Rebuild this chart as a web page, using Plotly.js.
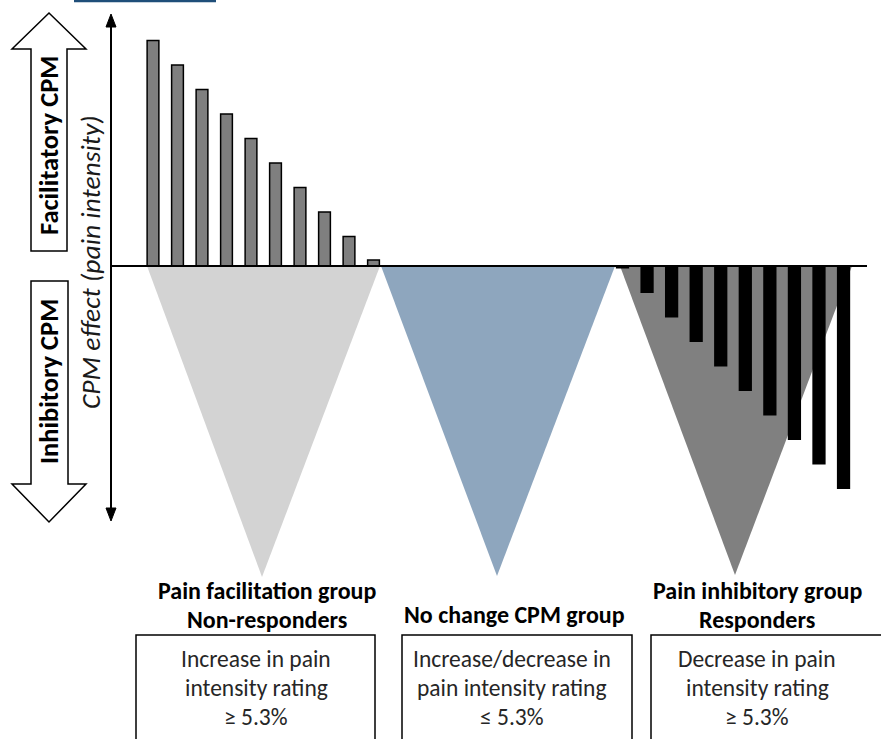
<!DOCTYPE html>
<html>
<head>
<meta charset="utf-8">
<script src="https://cdn.plot.ly/plotly-3.0.1.min.js"></script>
<style>html,body{margin:0;padding:0;background:#fff;}#chart{width:881px;height:739px;}</style>
</head>
<body>
<div id="chart"></div>
<script>
// ---- Data (CPM effect, arbitrary units; + = facilitation, - = inhibition) ----
const nonResponders = ['NR1','NR2','NR3','NR4','NR5','NR6','NR7','NR8','NR9','NR10'];
const nonResponderEffect = [9.2, 8.2, 7.2, 6.2, 5.2, 4.2, 3.2, 2.2, 1.2, 0.25];
const responders = ['R1','R2','R3','R4','R5','R6','R7','R8','R9','R10'];
const responderEffect = [-0.1, -1.1, -2.1, -3.1, -4.1, -5.1, -6.1, -7.1, -8.1, -9.1];

const groupTitles = [
  ['Pain facilitation group', 'Non-responders'],
  ['No change CPM group'],
  ['Pain inhibitory group', 'Responders']
];
const groupDescriptions = [
  ['Increase in pain', 'intensity rating', '≥ 5.3%'],
  ['Increase/decrease in', 'pain intensity rating', '≤ 5.3%'],
  ['Decrease in pain', 'intensity rating', '≥ 5.3%']
];
const axisTitle = 'CPM effect (pain intensity)';
const upLabel = 'Facilitatory CPM';
const downLabel = 'Inhibitory CPM';

// ---- Layout helpers (pixel -> paper) ----
const W = 881, H = 739;
const BASE = 266;          // pixel row of zero line
const UNIT = 24.5;         // pixels per effect unit
const px = x => x / W;
const py = y => 1 - y / H;
const FONT = 'Carlito, Lato, "Liberation Sans", sans-serif';

const traces = [
  {
    type: 'bar', x: nonResponders, y: nonResponderEffect, xaxis: 'x', yaxis: 'y',
    width: 0.48,
    marker: {color: '#7f7f7f', line: {color: '#000000', width: 1.5}},
    hoverinfo: 'skip'
  },
  {
    type: 'bar', x: responders, y: responderEffect, xaxis: 'x2', yaxis: 'y',
    width: 0.54,
    marker: {color: '#000000', line: {width: 0}},
    hoverinfo: 'skip'
  }
];

function tri(x1, x2, xa, ya, color) {
  return {type: 'path', xref: 'paper', yref: 'paper', layer: 'below',
    path: `M ${px(x1)},${py(BASE)} L ${px(x2)},${py(BASE)} L ${px(xa)},${py(ya)} Z`,
    fillcolor: color, line: {width: 0}};
}
function poly(pts, opts) {
  const d = pts.map((p, i) => (i ? 'L ' : 'M ') + px(p[0]) + ',' + py(p[1])).join(' ') + ' Z';
  return Object.assign({type: 'path', xref: 'paper', yref: 'paper', path: d}, opts);
}
function hline(x0, x1, y, color, w) {
  return {type: 'line', xref: 'paper', yref: 'paper', x0: px(x0), x1: px(x1), y0: py(y), y1: py(y),
    line: {color: color, width: w}};
}
function rect(x0, y0, x1, y1) {
  return {type: 'rect', xref: 'paper', yref: 'paper', x0: px(x0), x1: px(x1), y0: py(y0), y1: py(y1),
    fillcolor: 'rgba(0,0,0,0)', line: {color: '#000', width: 1.5}, layer: 'above'};
}

const shapes = [
  hline(74, 216, 1, '#1f4e79', 2.5),
  tri(147, 380, 262, 577, '#d3d3d3'),
  tri(381, 615, 497, 576, '#8ea6be'),
  tri(620, 852, 735, 575, '#808080'),
  // vertical axis with arrowheads
  {type: 'line', xref: 'paper', yref: 'paper', x0: px(111), x1: px(111), y0: py(24), y1: py(511),
    line: {color: '#000', width: 2}},
  poly([[111, 14], [116, 27], [106, 27]], {fillcolor: '#000', line: {color: '#000', width: 1}}),
  poly([[111, 521], [116, 508], [106, 508]], {fillcolor: '#000', line: {color: '#000', width: 1}}),
  // baseline
  hline(111, 867, BASE, '#000', 2),
  // hollow arrows
  poly([[49, 13], [86, 49], [67, 49], [67, 251], [31, 251], [31, 49], [12, 49]],
       {fillcolor: '#fff', line: {color: '#000', width: 1.5}, layer: 'below'}),
  poly([[31, 281], [68, 281], [68, 484], [86, 484], [49, 522], [12, 484], [31, 484]],
       {fillcolor: '#fff', line: {color: '#000', width: 1.5}, layer: 'below'}),
  // boxes
  rect(136, 635, 375, 760),
  rect(402, 635, 632, 760),
  rect(651, 635, 900, 760)
];

function ann(text, x, y, size, color, opts) {
  return Object.assign({text: text, xref: 'paper', yref: 'paper', x: px(x), y: py(y),
    xanchor: 'center', yanchor: 'middle', showarrow: false,
    font: {family: FONT, size: size, color: color || '#000'}}, opts || {});
}

const annotations = [
  ann('<b>' + upLabel + '</b>', 49, 146, 26.5, '#000', {textangle: -90}),
  ann('<b>' + downLabel + '</b>', 49, 382, 26.5, '#000', {textangle: -90}),
  ann('<i>' + axisTitle + '</i>', 90, 262, 27.5, '#1a1a1a', {textangle: -90})
];
const titleCenters = [267, 514, 757];
const descCenters = [256, 512, 757];
groupTitles.forEach((lines, g) => {
  const y0 = lines.length === 1 ? 614 : 590;
  lines.forEach((t, i) => annotations.push(ann('<b>' + t + '</b>', titleCenters[g], y0 + 29 * i, 24, '#000')));
});
groupDescriptions.forEach((lines, g) => {
  lines.forEach((t, i) => annotations.push(ann(t, descCenters[g], 659 + 29 * i, 23.5, '#262626')));
});

const layout = {
  width: W, height: H,
  margin: {l: 0, r: 0, t: 0, b: 0, pad: 0},
  paper_bgcolor: '#fff', plot_bgcolor: 'rgba(0,0,0,0)',
  showlegend: false,
  xaxis: {domain: [px(153 - UNIT / 2), px(153 + UNIT * 9.5)], type: 'category', range: [-0.5, 9.5],
    visible: false, fixedrange: true, anchor: 'y'},
  xaxis2: {domain: [px(622.5 - 24.56 / 2), px(622.5 + 24.56 * 9.5)], type: 'category', range: [-0.5, 9.5],
    visible: false, fixedrange: true, anchor: 'y'},
  yaxis: {domain: [0, 1], range: [-(H - BASE) / UNIT, BASE / UNIT], visible: false, fixedrange: true,
    anchor: 'x', zeroline: false},
  shapes: shapes,
  annotations: annotations
};

Plotly.newPlot('chart', traces, layout, {staticPlot: true, displayModeBar: false});
</script>
</body>
</html>
